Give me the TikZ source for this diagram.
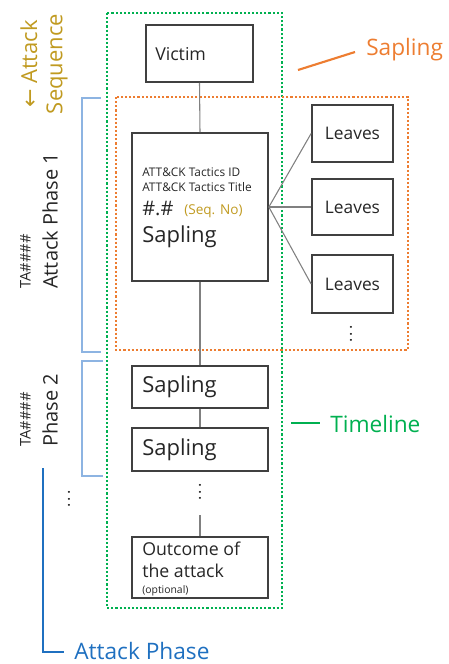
\documentclass[tikz,border=0pt]{standalone}
\usepackage{fontspec}
\setmainfont{Open Sans}
\newfontfamily\djv{DejaVu Sans}
\definecolor{tlgreen}{HTML}{00B050}
\definecolor{saporange}{HTML}{ED7D31}
\definecolor{seqgold}{HTML}{C09A20}
\definecolor{phaseblue}{HTML}{1F70C0}
\definecolor{brackblue}{HTML}{8DB4E2}
\definecolor{boxgray}{HTML}{404040}
\definecolor{linegray}{HTML}{808080}
\definecolor{txtgray}{HTML}{262626}
\newcommand{\vdotstxt}{.\kern1.6pt.\kern1.6pt.}
\begin{document}
\begin{tikzpicture}[x=0.75pt,y=-0.75pt,
  box/.style={draw=boxgray,line width=1.3pt,rectangle,inner sep=0pt},
  conn/.style={draw=linegray,line width=0.8pt},
  txt/.style={inner sep=0pt,text=txtgray},
  dotgreen/.style={draw=tlgreen,line width=1.8pt,dash pattern=on 1.6pt off 1.5pt},
  dotorange/.style={draw=saporange,line width=1.8pt,dash pattern=on 1.6pt off 1.5pt},
  bracket/.style={draw=brackblue,line width=0.9pt},
  big/.style={font=\fontsize{16.5}{19}\selectfont},
  leaf/.style={box,minimum width=81*0.75pt,font=\fontsize{13}{15}\selectfont,text=txtgray},
  ellip/.style={inner sep=0pt,rotate=90,text=txtgray,font=\fontsize{12}{14}\selectfont},
  legend/.style={inner sep=0pt,anchor=west,font=\fontsize{17}{20}\selectfont},
]
\useasboundingbox (0,0) rectangle (449,664);

% frames
\draw[dotgreen] (107,13) rectangle (282,608);
\draw[dotorange] (116,97) rectangle (408,350);

% boxes
\node[box,minimum width=107*0.75pt,minimum height=57*0.75pt] (victim) at (199.5,53.5) {};
\node[box,minimum width=136*0.75pt,minimum height=148*0.75pt] (sap1) at (200,207) {};
\node[box,minimum width=136*0.75pt,minimum height=42*0.75pt] (sap2) at (200,387) {};
\node[box,minimum width=136*0.75pt,minimum height=43*0.75pt] (sap3) at (200,449.5) {};
\node[box,minimum width=136*0.75pt,minimum height=61*0.75pt] (outc) at (200,567.5) {};
\node[leaf,minimum height=57*0.75pt] (leaf1) at (352.5,133.5) {Leaves};
\node[leaf,minimum height=56*0.75pt] (leaf2) at (352.5,207) {Leaves};
\node[leaf,minimum height=58*0.75pt] (leaf3) at (352.5,284) {Leaves};

% texts in boxes
\node[txt,anchor=west,font=\fontsize{13.3}{15}\selectfont] (victimtxt) at (155,54) {Victim};
\node[txt,anchor=west,font=\fontsize{8.9}{10}\selectfont] (tid) at (142,172) {ATT\&CK Tactics ID};
\node[txt,anchor=west,font=\fontsize{8.9}{10}\selectfont] (ttitle) at (142,187) {ATT\&CK Tactics Title};
\node[txt,anchor=west,font=\fontsize{15}{17}\selectfont] (seqnum) at (142,208) {\#.\#};
\node[txt,anchor=west,font=\fontsize{10.2}{12}\selectfont,text=seqgold] (seqno) at (184,211) {(Seq. No)};
\node[txt,anchor=west,big] (saptxt1) at (142,237) {Sapling};
\node[txt,anchor=west,big] (saptxt2) at (142,387) {Sapling};
\node[txt,anchor=west,big] (saptxt3) at (142,449.5) {Sapling};
\node[txt,anchor=west,font=\fontsize{13.3}{15}\selectfont] (out1) at (142,549) {Outcome of};
\node[txt,anchor=west,font=\fontsize{13.3}{15}\selectfont] (out2) at (142,571) {the attack};
\node[txt,anchor=west,font=\fontsize{7.8}{9}\selectfont] (out3) at (142,591) {(optional)};

% connectors
\draw[conn] (victim.south) -- (sap1.north);
\draw[conn] (sap1.south) -- (sap2.north);
\draw[conn] (sap2.south) -- (sap3.north);
\node[ellip] (vdots) at (200,492) {\vdotstxt};
\coordinate (vlinetop) at (200,515);
\draw[conn] (vlinetop) -- (outc.north);
\draw[conn] (sap1.east) -- (leaf1.west);
\draw[conn] (sap1.east) -- (leaf2.west);
\draw[conn] (sap1.east) -- (leaf3.west);
\node[ellip] (leafdots) at (351,334) {\vdotstxt};

% left brackets
\draw[bracket] (101,98) -- (82,98) -- (82,352) -- (101,352);
\draw[bracket] (103,361) -- (82,361) -- (82,476) -- (103,476);
\node[txt,rotate=90,anchor=south west,font=\fontsize{15}{17}\selectfont] (ph1) at (58,289) {Attack Phase 1};
\node[txt,rotate=90,anchor=south west,font=\fontsize{11}{13}\selectfont] (ta1) at (31,289) {TA\#\#\#\#};
\node[txt,rotate=90,anchor=south west,font=\fontsize{15}{17}\selectfont] (ph2) at (58,447) {Phase 2};
\node[txt,rotate=90,anchor=south west,font=\fontsize{11}{13}\selectfont] (ta2) at (31,447) {TA\#\#\#\#};
\node[ellip] (phdots) at (69,499) {\vdotstxt};

% attack sequence
\node[rotate=90,inner sep=0pt,align=center,text=seqgold,font=\fontsize{16.5}{19}\selectfont] (attseq) at (44,64) {{\djv ←} Attack\\Sequence};

% legends
\coordinate (sapl1) at (298,70);
\coordinate (sapl2) at (355,52);
\draw[draw=saporange,line width=1.6pt] (sapl1) -- (sapl2);
\node[legend,text=saporange] (saplab) at (366,50) {Sapling};
\coordinate (tl1) at (291,423);
\coordinate (tl2) at (320,423);
\draw[draw=tlgreen,line width=1.6pt] (tl1) -- (tl2);
\node[legend,text=tlgreen] (tllab) at (330,424) {Timeline};
\coordinate (ap1) at (43,468);
\coordinate (ap2) at (43,652);
\coordinate (ap3) at (64,652);
\draw[draw=phaseblue,line width=1.8pt] (ap1) -- (ap2) -- (ap3);
\node[legend,text=phaseblue] (aplab) at (74,651) {Attack Phase};
\end{tikzpicture}
\end{document}
